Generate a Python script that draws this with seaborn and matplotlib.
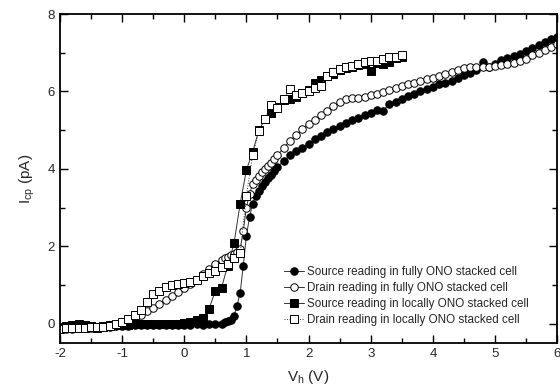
import matplotlib

matplotlib.use("Agg")
import matplotlib.pyplot as plt
import numpy as np
import pandas as pd
import seaborn as sns
from matplotlib.ticker import MultipleLocator

# sweep voltages for the circle series (fully ONO stacked cell)
V_FULL = [
    -2.0, -1.9, -1.8, -1.7, -1.6, -1.5, -1.4, -1.3, -1.2, -1.1,
    -1.0, -0.9, -0.8, -0.7, -0.6, -0.5, -0.4, -0.3, -0.2, -0.1,
    0.0, 0.1, 0.2, 0.3, 0.4, 0.5, 0.6, 0.65, 0.7, 0.75,
    0.8, 0.85, 0.9, 0.95, 1.0, 1.05, 1.1, 1.15, 1.2, 1.25,
    1.3, 1.35, 1.4, 1.45, 1.5, 1.6, 1.7, 1.8, 1.9, 2.0,
    2.1, 2.2, 2.3, 2.4, 2.5, 2.6, 2.7, 2.8, 2.9, 3.0,
    3.1, 3.2, 3.3, 3.4, 3.5, 3.6, 3.7, 3.8, 3.9, 4.0,
    4.1, 4.2, 4.3, 4.4, 4.5, 4.6, 4.7, 4.8, 4.9, 5.0,
    5.1, 5.2, 5.3, 5.4, 5.5, 5.6, 5.7, 5.8, 5.9, 6.0,
]
SOURCE_FULL = [
    -0.12, -0.10, -0.11, -0.09, -0.10, -0.09, -0.10, -0.08, -0.08, -0.07,
    -0.06, -0.06, -0.05, -0.05, -0.04, -0.05, -0.04, -0.04, -0.03, -0.04,
    -0.03, -0.03, -0.02, -0.03, -0.02, -0.02, 0.00, 0.03, 0.06, 0.10,
    0.20, 0.46, 0.80, 1.50, 2.27, 2.75, 3.10, 3.30, 3.42, 3.55,
    3.65, 3.75, 3.85, 3.95, 4.05, 4.20, 4.35, 4.45, 4.55, 4.65,
    4.76, 4.86, 4.95, 5.03, 5.10, 5.18, 5.25, 5.32, 5.39, 5.45,
    5.52, 5.50, 5.68, 5.74, 5.80, 5.87, 5.94, 6.00, 6.06, 6.12,
    6.18, 6.23, 6.28, 6.35, 6.42, 6.48, 6.55, 6.75, 6.64, 6.72,
    6.80, 6.86, 6.92, 6.98, 7.05, 7.12, 7.20, 7.28, 7.35, 7.42,
]
DRAIN_FULL = [
    -0.14, -0.13, -0.13, -0.12, -0.12, -0.11, -0.10, -0.08, -0.06, -0.03,
    0.02, 0.08, 0.15, 0.23, 0.32, 0.41, 0.50, 0.61, 0.72, 0.82,
    0.92, 1.03, 1.13, 1.28, 1.42, 1.54, 1.64, 1.69, 1.73, 1.77,
    1.81, 1.85, 1.92, 2.40, 3.00, 3.35, 3.60, 3.72, 3.82, 3.92,
    4.00, 4.08, 4.15, 4.25, 4.35, 4.55, 4.72, 4.88, 5.02, 5.15,
    5.27, 5.38, 5.50, 5.62, 5.72, 5.80, 5.82, 5.83, 5.86, 5.90,
    5.94, 5.98, 6.03, 6.08, 6.13, 6.18, 6.22, 6.27, 6.31, 6.36,
    6.40, 6.45, 6.50, 6.55, 6.60, 6.62, 6.62, 6.62, 6.63, 6.65,
    6.68, 6.70, 6.74, 6.78, 6.85, 6.93, 7.00, 7.08, 7.16, 7.22,
]

# sweep voltages for the square series (locally ONO stacked cell)
V_LOCAL = [
    -2.0, -1.9, -1.8, -1.7, -1.6, -1.5, -1.4, -1.3, -1.2, -1.1,
    -1.0, -0.9, -0.8, -0.7, -0.6, -0.5, -0.4, -0.3, -0.2, -0.1,
    0.0, 0.1, 0.2, 0.3, 0.4, 0.5, 0.6, 0.7, 0.8, 0.9,
    1.0, 1.1, 1.2, 1.3, 1.4, 1.5, 1.6, 1.7, 1.8, 1.9,
    2.0, 2.1, 2.2, 2.3, 2.4, 2.5, 2.6, 2.7, 2.8, 2.9,
    3.0, 3.1, 3.2, 3.3, 3.4, 3.5,
]
SOURCE_LOCAL = [
    -0.08, -0.06, -0.05, -0.02, -0.03, -0.06, -0.12, -0.07, -0.05, -0.05,
    -0.04, -0.03, -0.02, -0.02, -0.02, -0.01, -0.01, 0.00, -0.01, 0.00,
    0.01, 0.03, 0.08, 0.15, 0.38, 0.85, 0.93, 1.50, 2.07, 3.10,
    3.97, 4.43, 5.00, 5.28, 5.43, 5.60, 5.78, 5.80, 5.85, 5.95,
    6.05, 6.22, 6.30, 6.39, 6.45, 6.55, 6.60, 6.64, 6.68, 6.72,
    6.52, 6.73, 6.70, 6.76, 6.86, 6.88,
]
DRAIN_LOCAL = [
    -0.13, -0.12, -0.12, -0.11, -0.11, -0.10, -0.10, -0.08, -0.06, -0.02,
    0.03, 0.12, 0.22, 0.35, 0.55, 0.77, 0.85, 0.95, 1.00, 1.03,
    1.05, 1.07, 1.12, 1.24, 1.30, 1.37, 1.45, 1.55, 1.70, 1.83,
    3.30, 4.35, 4.97, 5.30, 5.64, 5.57, 5.80, 6.06, 5.90, 5.95,
    6.02, 6.08, 6.13, 6.40, 6.50, 6.58, 6.63, 6.67, 6.70, 6.75,
    6.78, 6.78, 6.85, 6.88, 6.90, 6.95,
]

LABELS = [
    "Source reading in fully ONO stacked cell",
    "Drain reading in fully ONO stacked cell",
    "Source reading in locally ONO stacked cell",
    "Drain reading in locally ONO stacked cell",
]


def main() -> None:
    sns.set_style("ticks")
    plt.rcParams["font.family"] = ["Liberation Sans", "DejaVu Sans"]
    plt.rcParams["mathtext.fontset"] = "custom"
    plt.rcParams["mathtext.rm"] = "Liberation Sans"
    plt.rcParams["mathtext.it"] = "Liberation Sans"
    plt.rcParams["axes.unicode_minus"] = False

    fig = plt.figure(figsize=(5.6, 3.91), dpi=100)
    ax = fig.add_axes([0.107, 0.123, 0.888, 0.841])

    series = [
        (V_FULL, SOURCE_FULL, "o", "black", "-"),
        (V_FULL, DRAIN_FULL, "o", "white", "-"),
        (V_LOCAL, SOURCE_LOCAL, "s", "black", "-"),
        (V_LOCAL, DRAIN_LOCAL, "s", "white", ":"),
    ]
    for (xs, ys, marker, face, ls), label in zip(series, LABELS):
        df = pd.DataFrame({"V": xs, "I": ys})
        sns.lineplot(
            data=df, x="V", y="I", ax=ax, sort=False, estimator=None,
            color="#333333", linewidth=0.7, linestyle=ls,
            marker=marker, markersize=5.4, markerfacecolor=face,
            markeredgecolor="black", markeredgewidth=0.7, label=label,
        )

    ax.set_xlim(-2, 6)
    ax.set_ylim(-0.5, 8)
    ax.xaxis.set_major_locator(MultipleLocator(1))
    ax.xaxis.set_minor_locator(MultipleLocator(0.5))
    ax.yaxis.set_major_locator(MultipleLocator(2))
    ax.yaxis.set_minor_locator(MultipleLocator(1))
    ax.tick_params(which="both", direction="in", top=True, right=True,
                   labelsize=9.5, width=1.0, color="black")
    ax.tick_params(which="major", length=6)
    ax.tick_params(which="minor", length=3.5)
    for sp in ax.spines.values():
        sp.set_linewidth(1.3)
        sp.set_color("black")

    ax.set_xlabel(r"V$_{\rm h}$ (V)", fontsize=11, labelpad=6)
    ax.set_ylabel(r"I$_{\rm cp}$ (pA)", fontsize=11, labelpad=8)

    ax.legend(loc="lower right", bbox_to_anchor=(0.955, 0.033), frameon=False,
              fontsize=8.4, handlelength=1.7, handletextpad=0.25,
              labelspacing=0.36, borderpad=0, markerscale=1.0)

    fig.savefig("out.png", dpi=100)
    plt.close(fig)


if __name__ == "__main__":
    main()
